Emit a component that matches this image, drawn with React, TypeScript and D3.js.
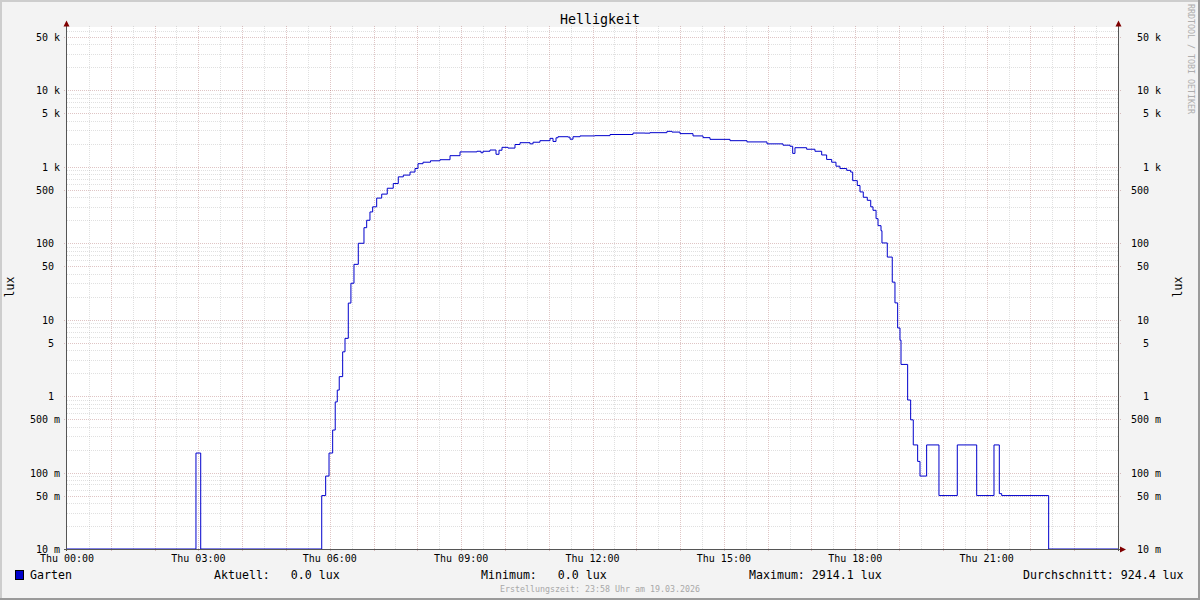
import React from 'react';
import * as d3 from 'd3';

// Time of each step change (minutes after 00:00) and the lux value from then on
const minutes = [
  0, 176.7, 183.2, 349, 354.4, 359, 364, 367.5, 370.3, 373, 377.7, 380.9, 385.4, 389, 393.2,
  399.1, 406.9, 410.6, 415.1, 418.8, 424.3, 431.2, 438.8, 447, 453.9, 460.8, 470, 476.8, 480.9,
  487.8, 498, 511, 524.8, 538.5, 561.7, 567.2, 570, 579.5, 587.8, 591.9, 596, 604.2, 613.8, 620.7,
  634.4, 638.5, 648, 661.8, 665.9, 670, 672.7, 686.4, 689.2, 693.3, 702.9, 723.4, 744, 775.5,
  792, 798.8, 822, 828.9, 839.9, 857.7, 871.4, 881, 908.4, 931.7, 959.1, 981, 990.6, 994.3,
  997.4, 1013.4, 1024.8, 1034, 1040.8, 1047.7, 1053.6, 1059, 1068.3, 1073.7, 1076.5, 1082.8,
  1086.5, 1091, 1096.5, 1101.2, 1104.3, 1108.5, 1111.2, 1115.3, 1116.6, 1123.9, 1130.7, 1134.4,
  1138.1, 1141.3, 1142.7, 1151.8, 1155.9, 1159.5, 1165.5, 1168.7, 1177.8, 1194.7, 1219.8,
  1246.4, 1270.1, 1277.4, 1280.6, 1345, 1440,
];
const lux = [
  0, 0.18, 0, 0.05, 0.09, 0.18, 0.36, 0.84, 1.2, 1.8, 3.8, 5.7, 16.5, 30, 53,
  100, 160, 200, 257, 300, 390, 440, 525, 605, 740, 780, 855, 950, 1100,
  1150, 1200, 1240, 1400, 1570, 1600, 1530, 1600, 1660, 1460, 1650, 1800, 1760, 1960, 2070,
  2000, 2100, 2200, 2360, 2150, 2400, 2480, 2450, 2300, 2480, 2540, 2560, 2650, 2770,
  2760, 2800, 2914, 2850, 2720, 2540, 2410, 2290, 2200, 2120, 2000, 1920, 1860, 1500,
  1780, 1700, 1600, 1430, 1250, 1150, 1020, 950, 900, 855, 660, 570,
  470, 400, 365, 300, 270, 210, 170, 146, 101, 66, 31, 16.6,
  7.8, 5.4, 2.6, 0.89, 0.49, 0.23, 0.14, 0.09, 0.23, 0.05, 0.23,
  0.05, 0.23, 0.053, 0.05, 0, 0,
];

const yTickValues = [50000, 10000, 5000, 1000, 500, 100, 50, 10, 5, 1, 0.5, 0.1, 0.05, 0.01];
const yTickNumbers = ['50', '10', '5', '1', '500', '100', '50', '10', '5', '1', '500', '100', '50', '10'];
const yTickUnits = ['k', 'k', 'k', 'k', '', '', '', '', '', '', 'm', 'm', 'm', 'm'];
const xLabelHours = [0, 3, 6, 9, 12, 15, 18, 21];
const xLabelTexts = ['Thu 00:00', 'Thu 03:00', 'Thu 06:00', 'Thu 09:00', 'Thu 12:00', 'Thu 15:00', 'Thu 18:00', 'Thu 21:00'];
const seriesName = 'Garten';
const legendTexts = ['Aktuell:   0.0 lux', 'Minimum:   0.0 lux', 'Maximum: 2914.1 lux', 'Durchschnitt: 924.4 lux'];

const FONT = '"DejaVu Sans Mono", monospace';
const X0 = 67, X1 = 1118, YB = 549, YT = 27;
const LINE = '#0000CC';
const MINOR = 'rgba(140,140,140,0.27)';
const MAJOR = 'rgba(130,30,30,0.26)';

export default function App() {
  const x = d3.scaleLinear().domain([0, 1440]).range([X0, X1]);
  const y = d3.scaleLog().domain([0.01, 50000]).range([YB, 37]);

  // horizontal grid
  const hGrid: { v: number; major: boolean }[] = [];
  for (let d = -2; d <= 4; d++) {
    for (let k = 1; k <= 9; k++) {
      const v = k * Math.pow(10, d);
      const py = y(v);
      if (py < YT || py >= YB) continue;
      hGrid.push({ v, major: k === 1 || k === 5 });
    }
  }
  const vGrid: { m: number; major: boolean }[] = [];
  for (let m = 30; m < 1440; m += 30) vGrid.push({ m, major: m % 60 === 0 });

  const pts: [number, number][] = minutes.map((m, i) => [m, lux[i]]);
  const line = d3
    .line<[number, number]>()
    .x((d) => x(d[0]))
    .y((d) => (d[1] <= 0.01 ? YB : y(d[1])))
    .curve(d3.curveStepAfter);

  const legendX = [214, 481, 749, 1023];

  return (
    <svg
      width={1200}
      height={600}
      style={{ position: 'absolute', left: 0, top: 0, display: 'block' }}
      fontFamily={FONT}
    >
      <rect x={0} y={0} width={1200} height={600} fill="#F3F3F3" />
      <rect x={0} y={0} width={1200} height={2} fill="#CDCDCD" />
      <rect x={0} y={0} width={2} height={600} fill="#CDCDCD" />
      <rect x={0} y={598} width={1200} height={2} fill="#9A9A9A" />
      <rect x={1198} y={0} width={2} height={600} fill="#9A9A9A" />

      <rect x={X0} y={YT} width={X1 - X0} height={YB - YT} fill="#FFFFFF" />

      {/* minor grid */}
      {hGrid.filter((g) => !g.major).map((g, i) => {
        const py = Math.round(y(g.v)) + 0.5;
        return <line key={'hm' + i} x1={X0} x2={X1} y1={py} y2={py} stroke={MINOR} strokeDasharray="1,1" />;
      })}
      {vGrid.filter((g) => !g.major).map((g, i) => {
        const px = Math.round(x(g.m)) + 0.5;
        return <line key={'vm' + i} x1={px} x2={px} y1={YT - 1} y2={YB} stroke={MINOR} strokeDasharray="1,1" />;
      })}
      {/* major grid */}
      {hGrid.filter((g) => g.major).map((g, i) => {
        const py = Math.round(y(g.v)) + 0.5;
        return <line key={'hM' + i} x1={X0 - 3} x2={X1 + 3} y1={py} y2={py} stroke={MAJOR} strokeDasharray="1,1" />;
      })}
      {vGrid.filter((g) => g.major).map((g, i) => {
        const px = Math.round(x(g.m)) + 0.5;
        return <line key={'vM' + i} x1={px} x2={px} y1={YT - 1} y2={YB + 3} stroke={MAJOR} strokeDasharray="1,1" />;
      })}

      {/* data line */}
      <path d={line(pts) || ''} fill="none" stroke={LINE} strokeWidth={1} />

      {/* axes */}
      <line x1={X0 - 0.5} x2={X0 - 0.5} y1={YB + 2} y2={23} stroke="#555" strokeWidth={1} />
      <line x1={X1 + 0.5} x2={X1 + 0.5} y1={YB + 2} y2={23} stroke="#555" strokeWidth={1} />
      <line x1={X0 - 3} x2={1122} y1={YB + 0.5} y2={YB + 0.5} stroke="#555" strokeWidth={1} />
      <path d={`M${X0 - 3.5},26.5 L${X0 - 0.5},20.5 L${X0 + 2.5},26.5 Z`} fill="#800000" />
      <path d={`M${X1 - 2.5},26.5 L${X1 + 0.5},20.5 L${X1 + 3.5},26.5 Z`} fill="#800000" />
      <path d={`M1120,${YB - 2.5} L1126,${YB + 0.5} L1120,${YB + 3.5} Z`} fill="#800000" />

      {/* y labels */}
      {yTickValues.map((v, i) => {
        const py = Math.round(y(v)) + 0.5;
        const hasUnit = yTickUnits[i] !== '';
        return (
          <g key={'yl' + i} fontSize={10} fill="#000">
            <text x={hasUnit ? 60 : 54} y={py + 3.5} textAnchor="end">
              {hasUnit ? `${yTickNumbers[i]} ${yTickUnits[i]}` : yTickNumbers[i]}
            </text>
            <text x={1149} y={py + 3.5} textAnchor="end">{yTickNumbers[i]}</text>
            {hasUnit && <text x={1155} y={py + 3.5}>{yTickUnits[i]}</text>}
          </g>
        );
      })}

      {/* x labels */}
      {xLabelHours.map((h, i) => (
        <text key={'xl' + i} x={x(h * 60)} y={562} fontSize={10} textAnchor="middle" fill="#000">
          {xLabelTexts[i]}
        </text>
      ))}

      {/* title */}
      <text x={600} y={24} fontSize={13.3} textAnchor="middle" fill="#000">Helligkeit</text>

      {/* vertical labels */}
      <text transform="translate(14,287) rotate(-90)" fontSize={11.5} textAnchor="middle" fill="#000">lux</text>
      <text transform="translate(1182,287) rotate(-90)" fontSize={11.5} textAnchor="middle" fill="#000">lux</text>
      <text transform="translate(1188,4) rotate(90)" fontSize={8.3} fill="#ADADAD">RRDTOOL / TOBI OETIKER</text>

      {/* legend */}
      <rect x={15.5} y={570.5} width={8} height={9} fill={LINE} stroke="#000" strokeWidth={1} />
      <text x={30} y={579} fontSize={11.6} fill="#000">{seriesName}</text>
      {legendTexts.map((t, i) => (
        <text key={'lg' + i} x={legendX[i]} y={579} fontSize={11.6} fill="#000" style={{ whiteSpace: 'pre' }}>
          {t}
        </text>
      ))}

      <text x={600} y={592} fontSize={8.3} textAnchor="middle" fill="#A8A8A8">
        Erstellungszeit: 23:58 Uhr am 19.03.2026
      </text>
    </svg>
  );
}
